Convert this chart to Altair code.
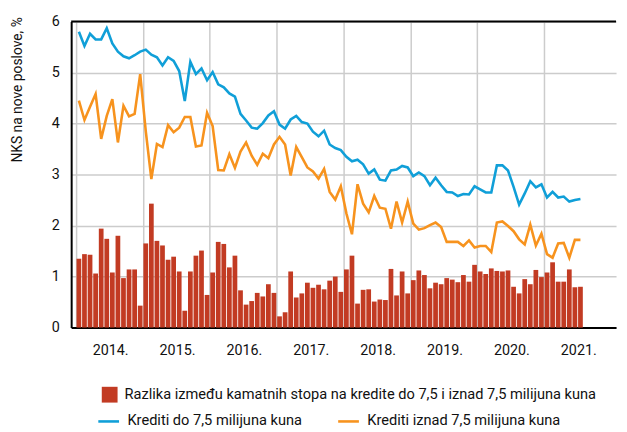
import altair as alt
import pandas as pd

# Monthly observations, Jan 2014 .. Jul 2021
months = pd.date_range("2014-01-01", periods=91, freq="MS").strftime("%Y-%m").tolist()

krediti_do = [
    5.80, 5.52, 5.76, 5.65, 5.65, 5.87, 5.57, 5.41, 5.32, 5.28, 5.34, 5.41,
    5.45, 5.35, 5.30, 5.14, 5.30, 5.23, 5.03, 4.44, 5.21, 4.97, 5.08, 4.85,
    5.01, 4.77, 4.71, 4.59, 4.53, 4.19, 4.06, 3.92, 3.90, 4.01, 4.16, 4.24,
    3.98, 3.90, 4.08, 4.15, 4.03, 4.00, 3.84, 3.75, 3.86, 3.59, 3.52, 3.48,
    3.35, 3.26, 3.29, 3.20, 3.02, 3.10, 2.90, 2.88, 3.08, 3.10, 3.17, 3.14,
    2.97, 3.04, 2.97, 2.79, 2.94, 2.79, 2.66, 2.65, 2.58, 2.62, 2.61, 2.77,
    2.71, 2.65, 2.65, 3.18, 3.18, 3.08, 2.76, 2.41, 2.63, 2.87, 2.75, 2.81,
    2.55, 2.66, 2.55, 2.57, 2.47, 2.50, 2.52,
]

krediti_iznad = [
    4.45, 4.07, 4.33, 4.58, 3.70, 4.15, 4.48, 3.63, 4.35, 4.14, 4.19, 4.97,
    3.85, 2.91, 3.60, 3.54, 3.97, 3.83, 3.92, 4.13, 4.13, 3.55, 3.57, 4.21,
    3.95, 3.09, 3.08, 3.40, 3.13, 3.45, 3.63, 3.37, 3.19, 3.41, 3.32, 3.59,
    3.74, 3.59, 2.98, 3.54, 3.34, 3.14, 3.06, 2.92, 3.11, 2.66, 2.51, 2.77,
    2.24, 1.83, 2.81, 2.43, 2.26, 2.58, 2.35, 2.33, 1.94, 2.47, 2.06, 2.47,
    2.04, 1.92, 1.95, 2.01, 2.06, 1.97, 1.68, 1.68, 1.68, 1.60, 1.71, 1.57,
    1.60, 1.60, 1.48, 2.06, 2.08, 1.99, 1.89, 1.73, 1.63, 2.02, 1.61, 1.84,
    1.44, 1.37, 1.65, 1.66, 1.37, 1.72, 1.72,
]

razlika = [
    1.35, 1.44, 1.43, 1.06, 1.94, 1.74, 1.08, 1.80, 0.97, 1.14, 1.14, 0.43,
    1.65, 2.43, 1.70, 1.61, 1.33, 1.39, 1.10, 0.33, 1.10, 1.41, 1.51, 0.64,
    1.08, 1.68, 1.64, 1.18, 1.41, 0.73, 0.45, 0.52, 0.68, 0.61, 0.85, 0.68,
    0.22, 0.30, 1.10, 0.59, 0.67, 0.88, 0.78, 0.84, 0.75, 0.92, 1.00, 0.70,
    1.14, 1.41, 0.47, 0.74, 0.75, 0.51, 0.55, 0.54, 1.15, 0.63, 1.10, 0.67,
    0.93, 1.12, 1.03, 0.77, 0.88, 0.85, 0.97, 0.94, 0.89, 1.03, 0.90, 1.23,
    1.10, 1.05, 1.16, 1.11, 1.10, 1.12, 0.80, 0.67, 0.95, 0.85, 1.13, 0.99,
    1.08, 1.28, 0.90, 0.90, 1.14, 0.79, 0.80,
]

years = list(range(2014, 2022))
y_ticks = [0, 1, 2, 3, 4, 5, 6]

LBL_BAR = "Razlika između kamatnih stopa na kredite do 7,5 i iznad 7,5 milijuna kuna"
LBL_DO = "Krediti do 7,5 milijuna kuna"
LBL_IZ = "Krediti iznad 7,5 milijuna kuna"

RED = "#c23b23"
BLUE = "#109fd8"
ORANGE = "#f7931e"
FONT = "Roboto"

idx = [i + 0.5 for i in range(len(months))]
bars_df = pd.DataFrame({"t": idx, "v": razlika, "s": LBL_BAR, "m": months})
lines_df = pd.concat([
    pd.DataFrame({"t": idx, "v": krediti_do, "s": LBL_DO, "m": months}),
    pd.DataFrame({"t": idx, "v": krediti_iznad, "s": LBL_IZ, "m": months}),
])

W, H = 552, 310
NM = 12 * len(years)

x_enc = alt.X(
    "t:Q",
    scale=alt.Scale(domain=[0, NM], nice=False, zero=False),
    axis=alt.Axis(
        values=[12 * k for k in range(len(years))],
        labelExpr="(2014 + datum.value / 12) + '.'",
        labelOffset=W / NM * 6,
        ticks=False, grid=True, title=None,
        labelPadding=16, labelFontSize=14.5, labelFont=FONT, labelColor="#111",
        domainColor="#000", domainWidth=2,
        gridColor="#cccccc", gridWidth=1.5,
    ),
)
y_enc = alt.Y(
    "v:Q",
    scale=alt.Scale(domain=[0, 6], nice=False),
    axis=alt.Axis(
        values=y_ticks, format="d", ticks=False, grid=True,
        labelPadding=12, labelFontSize=14.5, labelFont=FONT, labelColor="#111",
        domainColor="#000", domainWidth=2,
        gridColor="#cccccc", gridWidth=1.5,
        title="NKS na nove poslove, %", titleFont=FONT, titleFontSize=14,
        titleFontWeight="normal", titleColor="#111",
        titleAngle=270, titleAlign="right", titleBaseline="middle",
        titleX=-54, titleY=-5,
    ),
)

bars = alt.Chart(bars_df).mark_bar(width=4.8).encode(
    x=x_enc,
    y=y_enc,
    fill=alt.Fill(
        "s:N",
        scale=alt.Scale(domain=[LBL_BAR], range=[RED]),
        legend=alt.Legend(
            title=None, orient="none", legendX=31, legendY=370,
            symbolType="square", symbolSize=256, symbolStrokeWidth=0,
            labelFont=FONT, labelFontSize=14.8, labelLimit=0, labelOffset=7,
            labelColor="#111", padding=0,
        ),
    ),
)

lines = alt.Chart(lines_df).mark_line(strokeWidth=2.6).encode(
    x="t:Q",
    y="v:Q",
    stroke=alt.Stroke(
        "s:N",
        scale=alt.Scale(domain=[LBL_DO, LBL_IZ], range=[BLUE, ORANGE]),
        legend=alt.Legend(
            title=None, orient="none", legendX=26, legendY=393,
            direction="horizontal", symbolType="stroke", symbolSize=441,
            symbolStrokeWidth=2.6, columnPadding=31,
            labelFont=FONT, labelFontSize=14.8, labelLimit=0, labelOffset=7,
            labelColor="#111", padding=0,
        ),
    ),
    detail="s:N",
)

top_rule = alt.Chart(pd.DataFrame({"v": [6]})).mark_rule(color="#000", strokeWidth=2).encode(
    y="v:Q"
)

deco = alt.Chart(pd.DataFrame({"v": [0]})).mark_rule(color="#555", strokeWidth=1.5).encode(
    x=alt.value(-64), x2=alt.value(W + 3), y=alt.value(-15)
)

chart = alt.layer(bars, lines, top_rule, deco).properties(
    width=W, height=H,
    autosize=alt.AutoSizeParams(type="none"),
    padding={"left": 64, "top": 11, "right": 3, "bottom": 100},
).configure_view(stroke=None)

chart.save("out.html", embed_options={"renderer": "svg", "actions": False})
